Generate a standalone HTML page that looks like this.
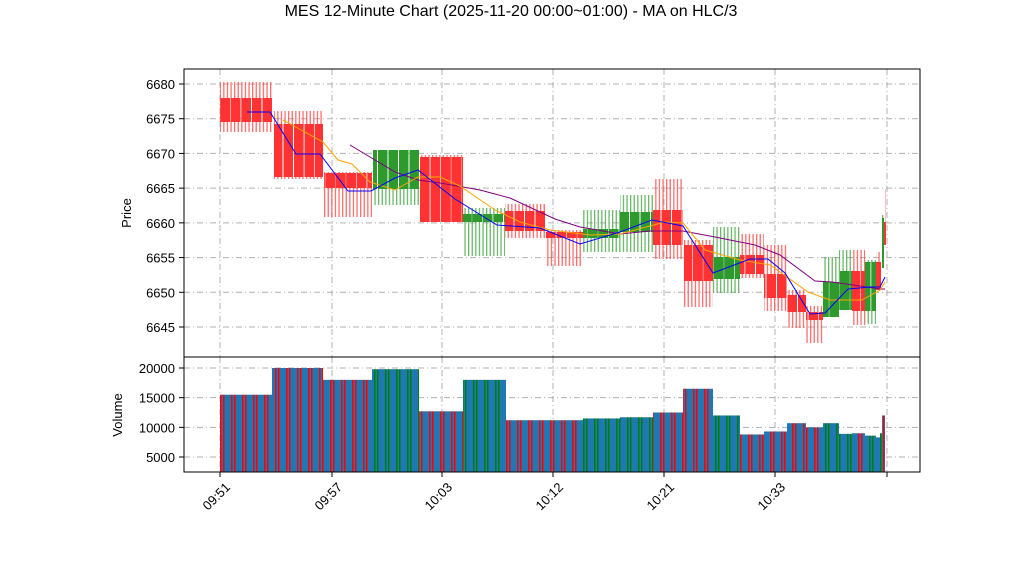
<!DOCTYPE html>
<html><head><meta charset="utf-8"><style>body{margin:0;background:#fff}svg{display:block;font-family:"Liberation Sans",sans-serif}</style></head>
<body>
<svg id="s" width="1022" height="575" xmlns="http://www.w3.org/2000/svg">
<defs>
<pattern id="wr" width="3.6" height="10" patternUnits="userSpaceOnUse"><rect x="0" width="1.3" height="10" fill="#ff3030" opacity="0.7"/></pattern>
<pattern id="wg" width="3.6" height="10" patternUnits="userSpaceOnUse"><rect x="0" width="1.3" height="10" fill="#2e9a2e" opacity="0.7"/></pattern>
<pattern id="br" width="10.5" height="10" patternUnits="userSpaceOnUse"><rect width="9.5" height="10" fill="#ff3333"/></pattern>
<pattern id="bg" width="10.5" height="10" patternUnits="userSpaceOnUse"><rect width="9.5" height="10" fill="#2e9a2e"/></pattern>
<pattern id="vr" width="11" height="10" patternUnits="userSpaceOnUse"><rect width="11" height="10" fill="#1f77b4"/><rect x="0" width="1.5" height="10" fill="#ff0000"/><rect x="3" width="1.5" height="10" fill="#ff0000"/></pattern>
<pattern id="vg" width="11" height="10" patternUnits="userSpaceOnUse"><rect width="11" height="10" fill="#1f77b4"/><rect x="0" width="1.5" height="10" fill="#008000"/><rect x="3" width="1.5" height="10" fill="#008000"/></pattern>
</defs>
<text x="511" y="16" font-size="16" text-anchor="middle">MES 12-Minute Chart (2025-11-20 00:00~01:00) - MA on HLC/3</text>
<g id="g"></g>
</svg>
<script>
const g=document.getElementById('g');let h='';
const X0=184,X1=920;
function py(p){return 84+(6680-p)*6.943}
function vy(v){return 368+(20000-v)*0.005933}
const xt=[220,332,442,553,664,775,887];
for(const x of xt){h+=`<line x1="${x}" y1="69" x2="${x}" y2="357" stroke="#b0b0b0" stroke-dasharray="6,3,1,3"/><line x1="${x}" y1="357" x2="${x}" y2="472" stroke="#b0b0b0" stroke-dasharray="6,3,1,3"/>`}
for(let p=6645;p<=6680;p+=5){const y=py(p);h+=`<line x1="${X0}" y1="${y}" x2="${X1}" y2="${y}" stroke="#b0b0b0" stroke-dasharray="6,3,1,3"/><line x1="179" y1="${y}" x2="184" y2="${y}" stroke="#000"/><text x="175" y="${y+5}" font-size="13" text-anchor="end">${p}</text>`}
for(let v=5000;v<=20000;v+=5000){const y=vy(v);h+=`<line x1="${X0}" y1="${y}" x2="${X1}" y2="${y}" stroke="#b0b0b0" stroke-dasharray="6,3,1,3"/><line x1="179" y1="${y}" x2="184" y2="${y}" stroke="#000"/><text x="175" y="${y+5}" font-size="13" text-anchor="end">${v}</text>`}
const C=[[220,272,98,122,82,132,'r'],[274,323,124,177,111,179,'r'],[324,372,173,188,172,217,'r'],[373,419,150,189,150,205,'g'],[420,463,157,222,155,222,'r'],[463,505,214,222,208,256,'g'],[505,546,211,231,204,238,'r'],[546,583,232,238,230,266,'r'],[583,620,229,238,210,252,'g'],[620,653,212,232,195,252,'g'],[653,683,210,245,179,259,'r'],[684,713,245,281,240,307,'r'],[713,740,257,279,227,293,'g'],[740,764,255,274,234,278,'r'],[764,787,274,298,245,311,'r'],[787,806,295,312,290,328,'r'],[806,823,312,320,306,343,'r'],[823,839,282,317,257,317,'g'],[839,852,271,310,250,310,'g'],[852,865,271,311,250,325,'r'],[865,876,262,311,260,324,'g'],[876,882,262,290,252,290,'r'],[882,884,218,268,215,268,'g'],[884,886,222,245,189,245,'r']];
for(const c of C){
h+=`<rect x="${c[0]}" y="${c[4]}" width="${c[1]-c[0]}" height="${c[5]-c[4]}" fill="url(#w${c[6]})"/>`;
h+=`<rect x="${c[0]}" y="${c[2]}" width="${c[1]-c[0]}" height="${c[3]-c[2]}" fill="url(#b${c[6]})"/>`;}
const L=[['#800080','350,145 395,172 418,180 440,183 480,190 510,198 555,219 580,227 620,234 650,231 683,231 715,237 755,245 780,255 815,281 832,282 860,286 880,289 885,289'],
['orange','283,120 323,142 338,160 352,164 370,182 395,190 418,177 440,177 460,186 495,210 520,222 550,230 590,235 620,234 665,222 683,223 705,250 740,260 770,265 808,292 830,300 862,300 880,290 885,282'],
['#0000ff','247,112 270,112 296,154 320,154 348,191 371,191 395,178 418,170 455,199 497,225 540,228 580,244 620,232 652,220 683,226 713,273 750,259 768,259 785,273 810,314 825,313 848,289 870,287 880,287 885,277']];
for(const l of L)h+=`<polyline points="${l[1]}" fill="none" stroke="${l[0]}" stroke-width="1"/>`;
const V=[[220,272,15500,'r'],[272,323,20000,'r'],[323,372,18000,'r'],[372,419,19800,'g'],[419,463,12700,'r'],[463,506,18000,'g'],[506,546,11200,'r'],[546,583,11200,'r'],[583,620,11500,'g'],[620,653,11700,'g'],[653,683,12500,'r'],[683,713,16500,'r'],[713,740,12000,'g'],[740,764,8800,'r'],[764,787,9300,'r'],[787,806,10700,'r'],[806,823,10000,'r'],[823,839,10700,'g'],[839,852,8900,'g'],[852,865,9000,'r'],[865,876,8600,'g'],[876,880,8300,'r'],[880,882,9000,'g'],[882,885,12000,'r']];
for(const v of V){const y=vy(v[2]);h+=`<rect x="${v[0]}" y="${y}" width="${v[1]-v[0]}" height="${472-y}" fill="url(#v${v[3]})"/>`}
h+=`<rect x="${X0}" y="69" width="${X1-X0}" height="288" fill="none" stroke="#000"/><rect x="${X0}" y="357" width="${X1-X0}" height="115" fill="none" stroke="#000"/>`;
const lab=['09:51','09:57','10:03','10:12','10:21','10:33'];
xt.forEach((x,i)=>{h+=`<line x1="${x}" y1="472" x2="${x}" y2="477" stroke="#000"/>`;if(lab[i])h+=`<text transform="translate(${x+11},${488}) rotate(-45)" font-size="13" text-anchor="end">${lab[i]}</text>`});
h+=`<text transform="translate(131,213) rotate(-90)" font-size="13" text-anchor="middle">Price</text><text transform="translate(122,415) rotate(-90)" font-size="13" text-anchor="middle">Volume</text>`;
g.innerHTML=h;
</script>
</body></html>
